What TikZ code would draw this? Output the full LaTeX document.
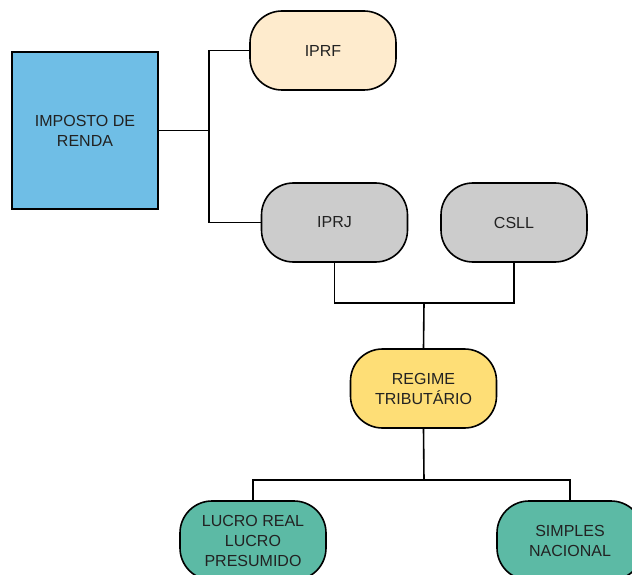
\documentclass[tikz,border=0pt]{standalone}
\usepackage{fontspec}
\setmainfont{Liberation Sans}
\definecolor{cblue}{HTML}{6FBEE6}
\definecolor{cpeach}{HTML}{FEEBCD}
\definecolor{cgray}{HTML}{CCCCCC}
\definecolor{cyellow}{HTML}{FEDE76}
\definecolor{cteal}{HTML}{5CBAA5}
\definecolor{ctext}{HTML}{222222}
\begin{document}
\begin{tikzpicture}[x=1pt,y=-1pt,
  box/.style={draw=black,line width=1.6pt,minimum width=146pt,minimum height=157pt,
    inner sep=0pt,align=center,text=ctext,font=\fontsize{16}{20}\selectfont},
  pill/.style={draw=black,line width=1.6pt,rounded corners=32pt,minimum width=146pt,minimum height=79pt,
    inner sep=0pt,align=center,text=ctext,font=\fontsize{16}{20}\selectfont},
  link/.style={line width=1.6pt}]
\useasboundingbox (0,0) rectangle (632,575);
\clip (0,0) rectangle (632,575);
\node[box,fill=cblue] (ir) at (85,130.5) {IMPOSTO DE\\RENDA};
\node[pill,fill=cpeach] (iprf) at (323,50.5) {IPRF};
\node[pill,fill=cgray] (iprj) at (334.5,222.5) {IPRJ};
\node[pill,fill=cgray] (csll) at (514,222.5) {CSLL};
\node[pill,fill=cyellow] (reg) at (423.5,388.5) {REGIME\\TRIBUTÁRIO};
\node[pill,fill=cteal] (lucro) at (253,540.5) {LUCRO REAL\\LUCRO\\PRESUMIDO};
\node[pill,fill=cteal] (simp) at (570,540.5) {SIMPLES\\NACIONAL};
\coordinate (j1) at (209,130.5);
\coordinate (j2) at (424,303);
\coordinate (j3) at (424,480);
\draw[link] (ir.east) -- (j1);
\draw[link] (iprf.west) -| (j1) |- (iprj.west);
\draw[link] (iprj.south) |- (j2) -| (csll.south);
\draw[link] (j2) -- (reg.north);
\draw[link] (reg.south) -- (j3);
\draw[link] (lucro.north) |- (j3) -| (simp.north);
\end{tikzpicture}
\end{document}
